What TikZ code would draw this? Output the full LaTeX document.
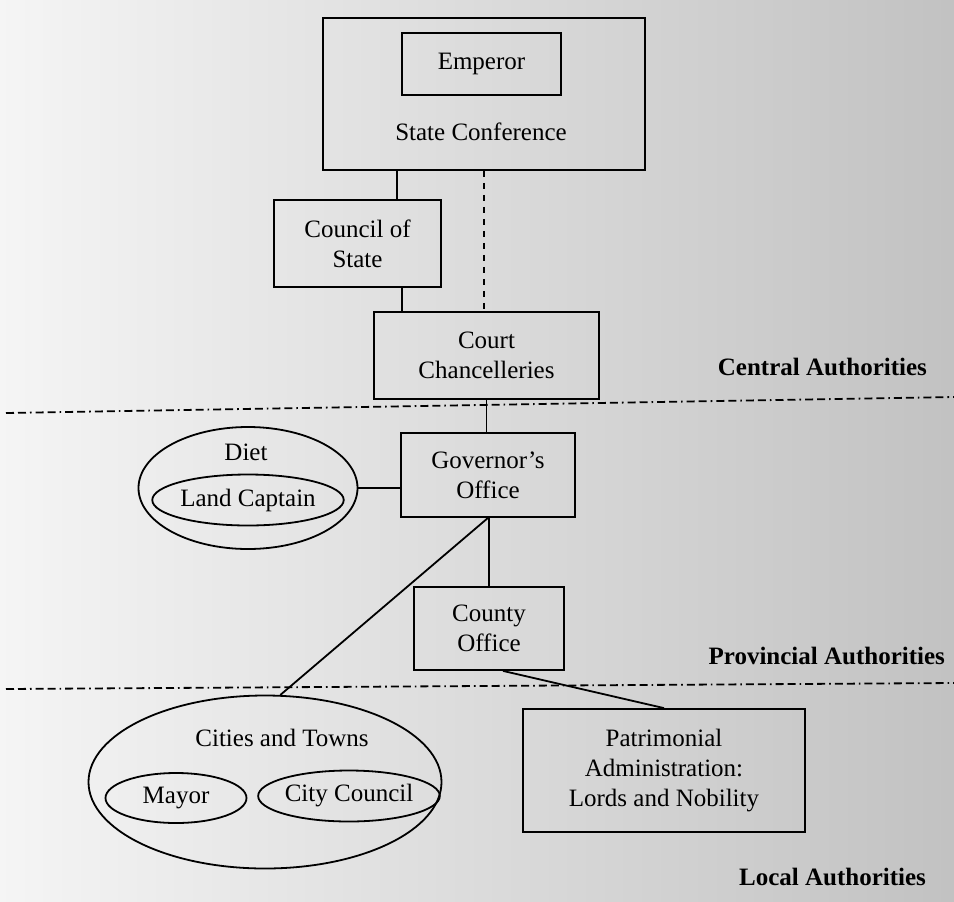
\documentclass[tikz,border=0pt]{standalone}
\usepackage{fontspec}
\setmainfont{Liberation Serif}
\usetikzlibrary{shapes.geometric}

\tikzset{
  office/.style={draw, rectangle, line width=0.9pt, align=center, inner sep=0pt},
  circle of/.style={draw, ellipse, line width=0.9pt, inner sep=0pt},
  link/.style={line width=0.9pt},
  divider/.style={line width=0.9pt, dash pattern=on 4pt off 2pt on 4pt off 2pt on 0.8pt off 2pt},
  level/.style={font=\fontsize{12.5}{15}\selectfont\bfseries, anchor=east}
}

\begin{document}
\begin{tikzpicture}[x=0.5pt,y=-0.5pt,font=\fontsize{12.5}{15}\selectfont]
	\useasboundingbox (0,0) rectangle (954,901);
	\shade[left color=black!4, right color=black!24] (0,0) rectangle (954,901);

	% central authorities
	\node[office, minimum width=161pt, minimum height=76pt] (conf) at (484,94) {};
	\node[office, minimum width=79.5pt, minimum height=31pt] (emperor) at (481.5,64) {Emperor};
	\node (conftext) at (481,132) {State Conference};
	\node[office, minimum width=83.5pt, minimum height=43.5pt] (council) at (357.5,243.5) {Council of\\State};
	\node[office, minimum width=112.5pt, minimum height=43.5pt] (court) at (486.5,355.5) {Court\\Chancelleries};

	% provincial authorities
	\node[office, minimum width=87pt, minimum height=42pt] (gov) at (488,475) {Governor's\\Office};
	\node[office, minimum width=75pt, minimum height=41.5pt] (county) at (489,628.5) {County\\Office};
	\node[circle of, minimum width=109.5pt, minimum height=61pt] (diet) at (248,488) {};
	\node (diettext) at (246,452) {Diet};
	\node[circle of, minimum width=85pt, minimum height=25.5pt] (captain) at (248,500) {Land Captain};

	% local authorities
	\node[circle of, minimum width=176.5pt, minimum height=86.5pt] (cities) at (265,782) {};
	\node (citiestext) at (282,738) {Cities and Towns};
	\node[circle of, minimum width=70.5pt, minimum height=25pt] (mayor) at (176,798) {Mayor};
	\node[circle of, minimum width=78pt, minimum height=25.5pt] (citycouncil) at (349,796) {City Council};
	\node[office, minimum width=141pt, minimum height=61.5pt] (patri) at (664,770.5) {Patrimonial\\Administration:\\Lords and Nobility};

	% connectors
	\coordinate (cs) at (397,0);
	\coordinate (cc) at (402,0);
	\draw[link] (cs |- conf.south) -- (cs |- council.north);
	\draw[link, dashed] (conf.south) -- (conf.south |- court.north);
	\draw[link] (cc |- council.south) -- (cc |- court.north);
	\draw[link] (court.south) -- (court.south |- gov.north);
	\draw[link] (diet.east) -- (diet.east -| gov.west);
	\draw[link] (gov.south -| county.north) -- (county.north);
	\draw[link] (gov.south) -- (cities.80);
	\draw[link] ([xshift=7pt]county.south) -- (patri.north);

	% levels
	\coordinate (l1) at (6,413);
	\coordinate (r1) at (954,397);
	\coordinate (l2) at (6,689);
	\coordinate (r2) at (954,683);
	\draw[divider] (l1) -- (r1);
	\draw[divider] (l2) -- (r2);
	\node[level] (central) at (934,367) {Central Authorities};
	\node[level] (provincial) at (952,656) {Provincial Authorities};
	\node[level] (local) at (933,877) {Local Authorities};
\end{tikzpicture}
\end{document}
